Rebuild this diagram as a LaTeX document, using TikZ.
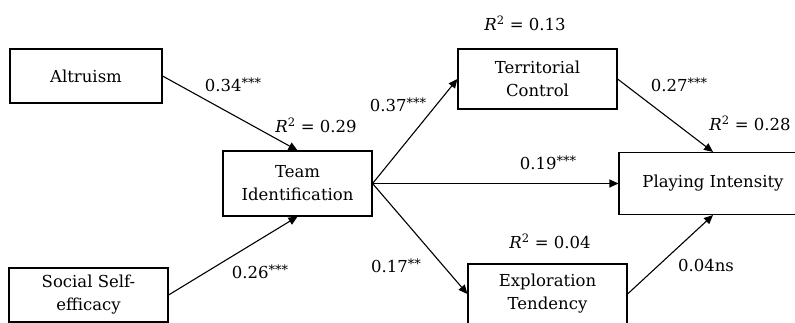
\documentclass[tikz,border=0pt]{standalone}
\usepackage{fontspec}
\setmainfont{DejaVu Serif}
\usetikzlibrary{arrows.meta, positioning}

\newcommand{\coef}[2]{#1\raisebox{.5ex}{\fontsize{13}{13}\selectfont#2}}
\newcommand{\rsq}[1]{\textit{R}\textsuperscript{2} = #1}

\begin{document}
\begin{tikzpicture} [%
    x = 1pt, y = -1pt,
    on grid,
    >= {Triangle[length=9pt, width=8pt]},
    line width = 1.1pt,
    font = \fontsize{16.5}{23}\selectfont,
    construct/.style = {%
      draw, align = center,
      inner sep = 0pt,
      minimum width = 159pt,
      minimum height = 60pt },
    coeff/.style = {%
      inner sep = 0pt }
  ]

\useasboundingbox (0,0) rectangle (795,323);

% constructs
\node[construct, minimum width=149pt, minimum height=65pt] (ti) at (297.5,183.5) {Team\\Identification};
\node[construct, minimum width=152pt, minimum height=54pt] (alt) [above left=107.5pt and 211.5pt of ti] {Altruism};
\node[construct, minimum height=54pt] (soc) [below left=111.5pt and 209pt of ti] {Social Self-\\efficacy};
\node[construct] (tc) [above right=104.5pt and 240pt of ti] {Territorial\\Control};
\node[construct, minimum width=188pt, minimum height=62pt] (pi) [right=415.5pt of ti] {Playing Intensity};
\node[construct] (et) [below right=110.5pt and 250pt of ti] {Exploration\\Tendency};

% paths
\draw[->] (alt.east) -- (ti.north);
\draw[->] (soc.east) -- (ti.south);
\draw[->] (ti.east) -- (tc.west);
\draw[->] (ti.east) -- (pi.west);
\draw[->] (ti.east) -- (et.west);
\draw[->] (tc.east) -- (pi.north);
\draw[->] (et.east) -- (pi.south);

% estimates
\node[coeff] (b_alt) at (233,85)  {\coef{0.34}{***}};
\node[coeff] (b_soc) at (260,272) {\coef{0.26}{***}};
\node[coeff] (b_tc)  at (398,105) {\coef{0.37}{***}};
\node[coeff] (b_et)  at (396,266) {\coef{0.17}{**}};
\node[coeff] (b_pi)  at (548,163) {\coef{0.19}{***}};
\node[coeff] (b_tcp) at (679,85)  {\coef{0.27}{***}};
\node[coeff] (b_etp) at (706,265) {0.04ns};

\node[coeff] (r_ti) at (316,125) {\rsq{0.29}};
\node[coeff] (r_tc) at (525,23)  {\rsq{0.13}};
\node[coeff] (r_pi) at (750,123) {\rsq{0.28}};
\node[coeff] (r_et) at (550,241) {\rsq{0.04}};

\end{tikzpicture}
\end{document}
